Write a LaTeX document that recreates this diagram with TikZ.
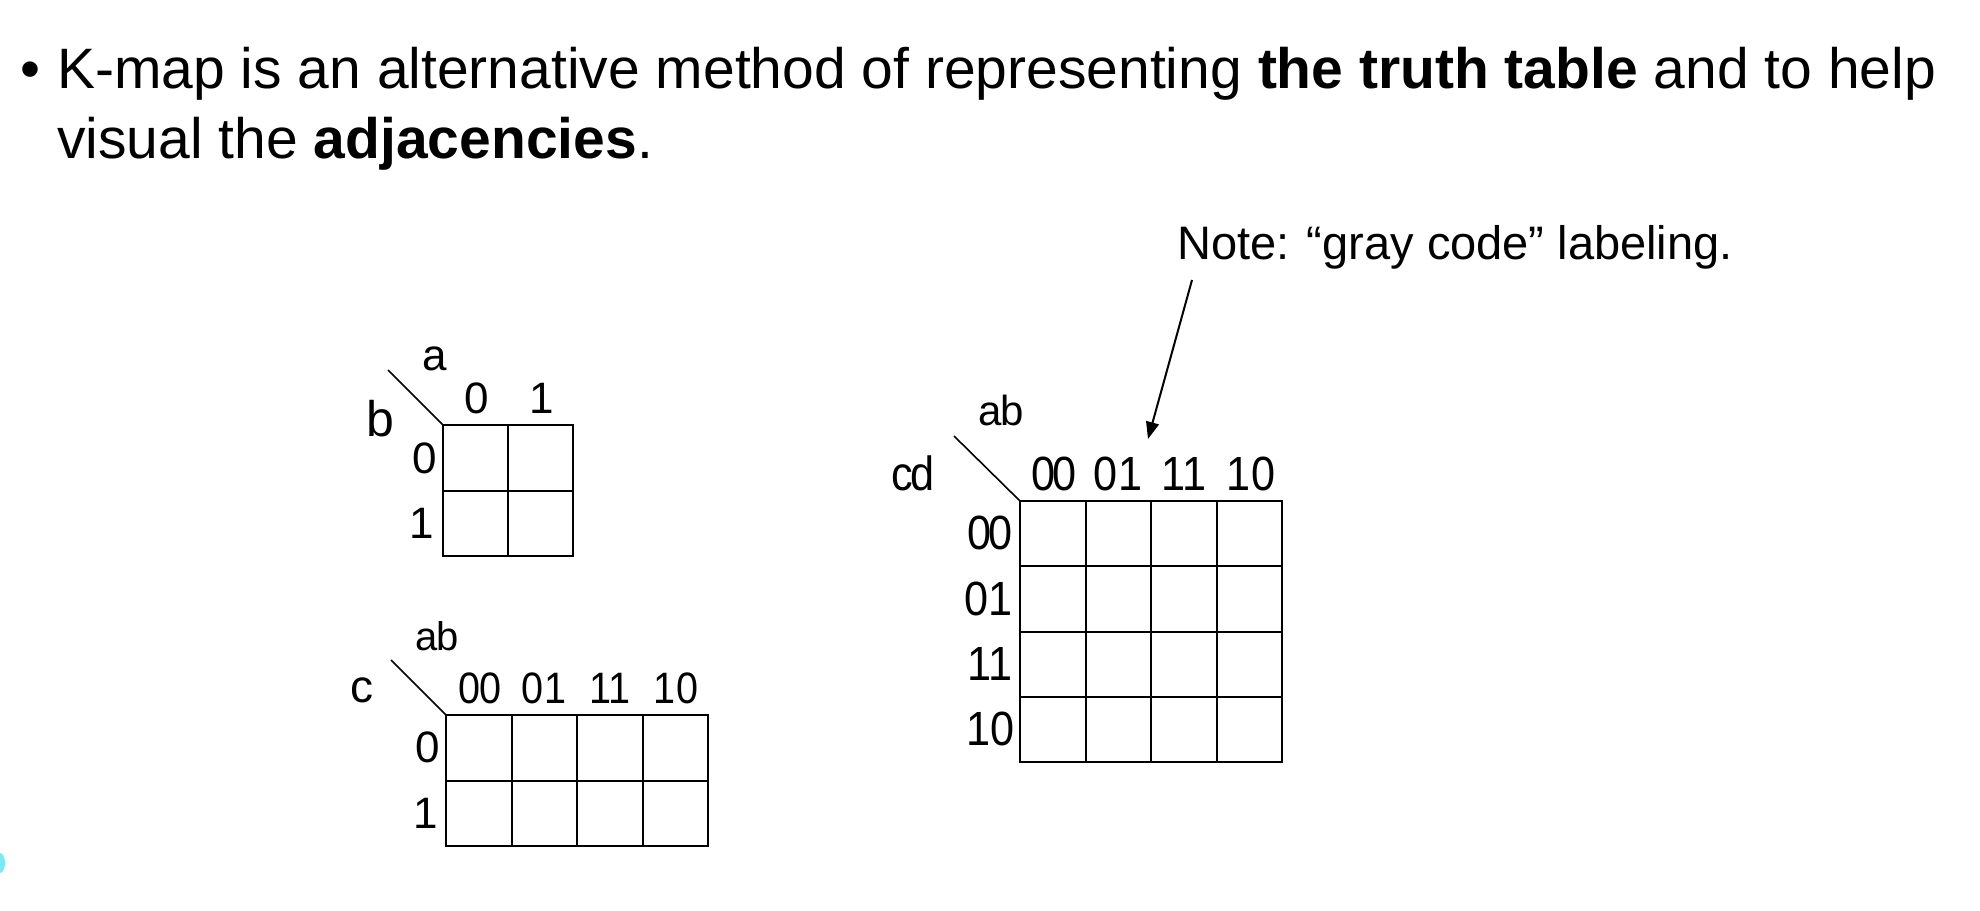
\documentclass[tikz,border=0pt]{standalone}
\usepackage{fontspec}
\setmainfont{Liberation Sans}
\newfontfamily\labfont[FakeStretch=0.9]{Liberation Sans}
\usetikzlibrary{arrows.meta}
\definecolor{blobcyan}{RGB}{125,232,242}
\begin{document}
\begin{tikzpicture}[x=1pt,y=-1pt,
  gridl/.style={line width=2pt},
  diag/.style={line width=1.6pt},
  title/.style={inner sep=0pt, anchor=base west, font=\fontsize{57}{60}\selectfont},
  notetext/.style={inner sep=0pt, anchor=base west, font=\fontsize{47}{50}\selectfont},
  sm/.style={inner sep=0pt, font=\fontsize{44}{48}\selectfont},
  mlab/.style={inner sep=0pt, font=\labfont\fontsize{44}{48}\selectfont},
  blab/.style={inner sep=0pt, font=\labfont\fontsize{48}{50}\selectfont},
  arr/.style={line width=2pt, -{Triangle[length=17pt,width=13pt]}}]
\useasboundingbox (0,0) rectangle (1980,910);
\fill[white] (0,0) rectangle (1980,910);
\fill[blobcyan] (0,863) ellipse (5pt and 10pt);

% title
\node[title] (bul) at (20,88) {•};
\node[title] (t1) at (57,88) {K-map is an alternative method of representing \textbf{the truth table} and to help};
\node[title] (t2) at (57,158) {visual the \textbf{adjacencies}.};

% note + arrow
\node[notetext] (note) at (1177,259) {Note: “gray code” labeling.};
\coordinate (arrS) at (1192,280);
\coordinate (arrE) at (1148,439);
\draw[arr] (arrS) -- (arrE);

% ---- small 2x2 map
\draw[gridl] (443,425) rectangle (573,556);
\draw[gridl] (508,425) -- (508,556) (443,490.5) -- (573,490.5);
\coordinate (sd1) at (388,370);
\coordinate (sd2) at (443,425);
\draw[diag] (sd1) -- (sd2);
\node[sm, anchor=base] (sa) at (435,370) {a};
\node[sm, anchor=base, font=\fontsize{50}{52}\selectfont] (sb) at (380,436) {b};
\node[sm, anchor=base] (sc0) at (477,413) {0};
\node[sm, anchor=base] (sc1) at (542,413) {1};
\node[sm, anchor=east] (sr0) at (437,458) {0};
\node[sm, anchor=east] (sr1) at (434,523) {1};

% ---- medium 2x4 map
\draw[gridl] (446,715) rectangle (708,846);
\draw[gridl] (511.5,715) -- (511.5,846) (577,715) -- (577,846) (642.5,715) -- (642.5,846)
  (446,780.5) -- (708,780.5);
\coordinate (md1) at (391,660);
\coordinate (md2) at (446,715);
\draw[diag] (md1) -- (md2);
\node[sm, anchor=base, font=\fontsize{40}{44}\selectfont] (mab) at (437,650) {a\kern-1pt b};
\node[sm, anchor=base, font=\fontsize{46}{48}\selectfont] (mc) at (362,702) {c};
\node[mlab, anchor=base] (mc00) at (480,703) {0\kern-2pt0};
\node[mlab, anchor=base] (mc01) at (544,703) {01};
\node[mlab, anchor=base] (mc11) at (610,703) {11};
\node[mlab, anchor=base] (mc10) at (676,703) {10};
\node[sm, anchor=east] (mr0) at (440,747) {0};
\node[sm, anchor=east] (mr1) at (438,813) {1};

% ---- large 4x4 map
\draw[gridl] (1020,501) rectangle (1282,762);
\draw[gridl] (1085.5,501) -- (1085.5,762) (1151,501) -- (1151,762) (1216.5,501) -- (1216.5,762)
  (1020,566.25) -- (1282,566.25) (1020,631.5) -- (1282,631.5) (1020,696.75) -- (1282,696.75);
\coordinate (ld1) at (954,436);
\coordinate (ld2) at (1020,501);
\draw[diag] (ld1) -- (ld2);
\node[sm, anchor=base, font=\fontsize{42}{44}\selectfont] (lab) at (1001,425) {a\kern-1pt b};
\node[blab, anchor=base] (lcd) at (913,490) {c\kern-3pt d};
\node[blab, anchor=base] (lc00) at (1054,490) {0\kern-3pt0};
\node[blab, anchor=base] (lc01) at (1118,490) {01};
\node[blab, anchor=base] (lc11) at (1184,490) {11};
\node[blab, anchor=base] (lc10) at (1251,490) {10};
\node[blab, anchor=east] (lr00) at (1013,533) {0\kern-3pt0};
\node[blab, anchor=east] (lr01) at (1013,599) {01};
\node[blab, anchor=east] (lr11) at (1013,664) {11};
\node[blab, anchor=east] (lr10) at (1015,729) {10};
\end{tikzpicture}
\end{document}
